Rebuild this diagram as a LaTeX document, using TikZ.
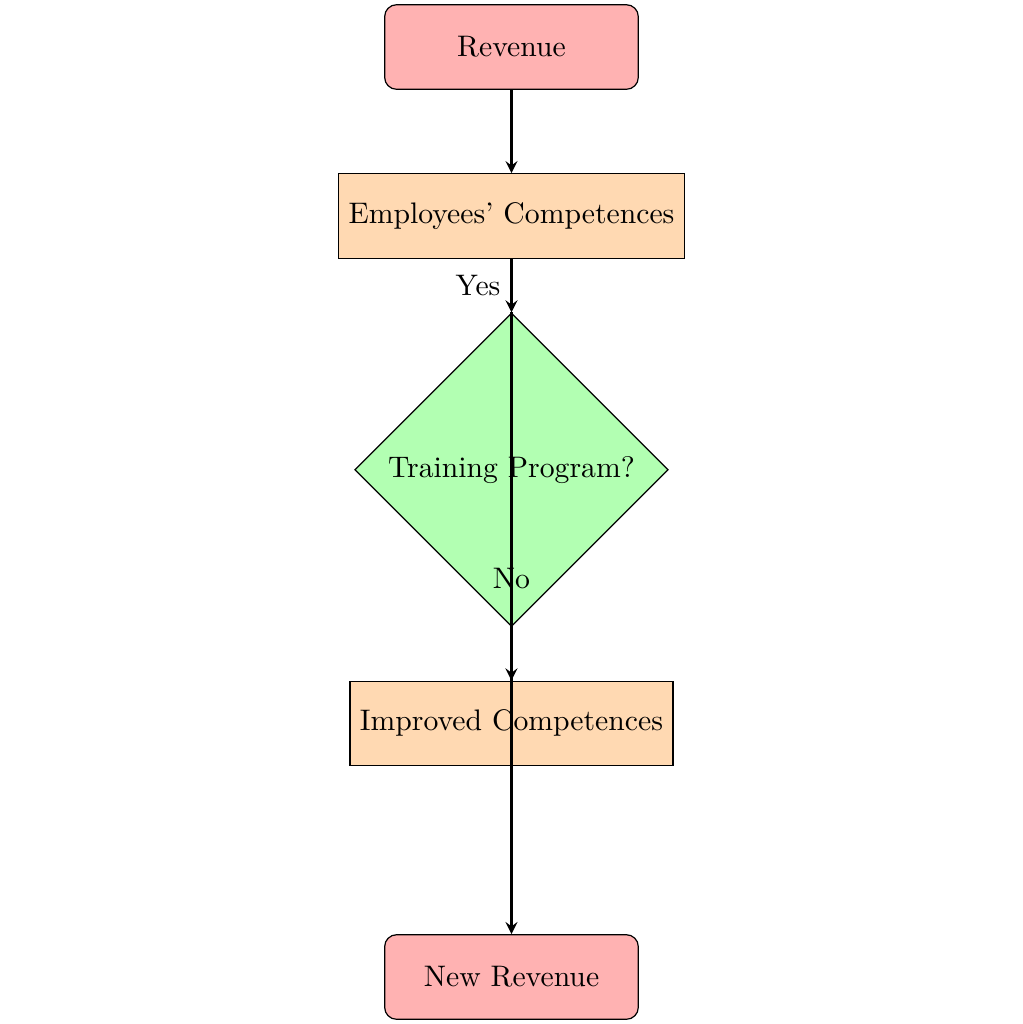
\documentclass[tikz,border=0pt]{standalone}
\usetikzlibrary{shapes.geometric,arrows}
\begin{document}
\begin{tikzpicture}[
  startstop/.style={rectangle, rounded corners, minimum width=3cm, minimum height=1cm, text centered, draw=black, fill=red!30},
  process/.style={rectangle, minimum width=3cm, minimum height=1cm, text centered, draw=black, fill=orange!30},
  decision/.style={diamond, text centered, draw=black, fill=green!30},
  arrowline/.style={thick,->,>=stealth}
]
\useasboundingbox (-6.05,0.556) rectangle (6.05,-11.556);
\node[startstop] (rev) at (0,0) {Revenue};
\node[process] (emp) at (0,-2) {Employees' Competences};
\node[decision] (dec) at (0,-5) {Training Program?};
\node[process] (imp) at (0,-8) {Improved Competences};
\node[startstop] (new) at (0,-11) {New Revenue};
\draw[arrowline] (rev) -- (emp);
\draw[arrowline] (emp) -- node[left] {Yes} (dec);
\draw[arrowline] (dec.north) -- (imp.north);
\draw[arrowline] (dec.south) -- (new);
\node[yshift=0.57cm] (nolabel) at (dec.south) {No};
\end{tikzpicture}
\end{document}
